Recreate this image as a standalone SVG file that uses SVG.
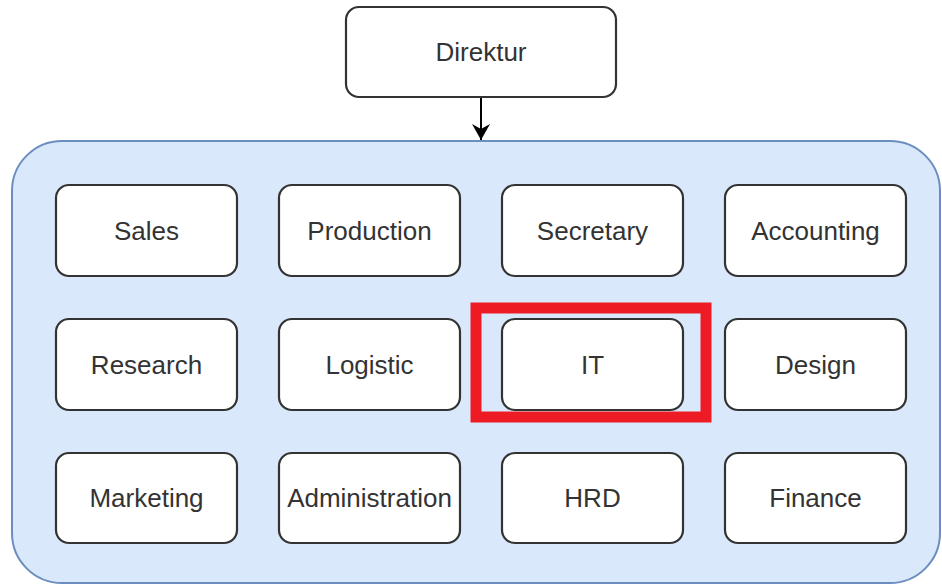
<svg xmlns="http://www.w3.org/2000/svg" width="942" height="586" viewBox="0 0 942 586">
<defs>
<style>
.box{fill:#ffffff;stroke:#333333;stroke-width:2.2}
.lbl{font-family:"Liberation Sans",Arial,sans-serif;font-size:26px;fill:#333333;text-anchor:middle;dominant-baseline:central}
</style>
<marker id="arr" viewBox="0 0 10 10" refX="9" refY="5" markerWidth="5" markerHeight="5" orient="auto" markerUnits="userSpaceOnUse">
<path d="M0,0 L10,5 L0,10 L3,5 Z" fill="#000"/>
</marker>
</defs>
<rect width="942" height="586" fill="#ffffff"/>
<g id="container">
<rect x="12" y="141" width="928" height="442" rx="50" ry="50" fill="#dae8fc" stroke="#6c8ebf" stroke-width="2"/>
</g>
<g id="connectors">
<line x1="481" y1="97" x2="481" y2="140" stroke="#000" stroke-width="2"/>
<path d="M472,124 L481,140 L490,124 L481,129 Z" fill="#000"/>
</g>
<g id="direktur"><rect class="box" x="346" y="7" width="270" height="90" rx="13"/><text class="lbl" x="481" y="52">Direktur</text></g>
<g id="sales"><rect class="box" x="56" y="185" width="181" height="91" rx="13"/><text class="lbl" x="146.5" y="230.5">Sales</text></g>
<g id="production"><rect class="box" x="279" y="185" width="181" height="91" rx="13"/><text class="lbl" x="369.5" y="230.5">Production</text></g>
<g id="secretary"><rect class="box" x="502" y="185" width="181" height="91" rx="13"/><text class="lbl" x="592.5" y="230.5">Secretary</text></g>
<g id="accounting"><rect class="box" x="725" y="185" width="181" height="91" rx="13"/><text class="lbl" x="815.5" y="230.5">Accounting</text></g>
<g id="research"><rect class="box" x="56" y="319" width="181" height="91" rx="13"/><text class="lbl" x="146.5" y="364.5">Research</text></g>
<g id="logistic"><rect class="box" x="279" y="319" width="181" height="91" rx="13"/><text class="lbl" x="369.5" y="364.5">Logistic</text></g>
<g id="it"><rect class="box" x="502" y="319" width="181" height="91" rx="13"/><text class="lbl" x="592.5" y="364.5">IT</text></g>
<g id="design"><rect class="box" x="725" y="319" width="181" height="91" rx="13"/><text class="lbl" x="815.5" y="364.5">Design</text></g>
<g id="marketing"><rect class="box" x="56" y="453" width="181" height="90" rx="13"/><text class="lbl" x="146.5" y="498">Marketing</text></g>
<g id="administration"><rect class="box" x="279" y="453" width="181" height="90" rx="13"/><text class="lbl" x="369.5" y="498">Administration</text></g>
<g id="hrd"><rect class="box" x="502" y="453" width="181" height="90" rx="13"/><text class="lbl" x="592.5" y="498">HRD</text></g>
<g id="finance"><rect class="box" x="725" y="453" width="181" height="90" rx="13"/><text class="lbl" x="815.5" y="498">Finance</text></g>
<g id="highlight"><rect x="476" y="308" width="230" height="109" fill="none" stroke="#ed1c24" stroke-width="11"/></g>
</svg>
